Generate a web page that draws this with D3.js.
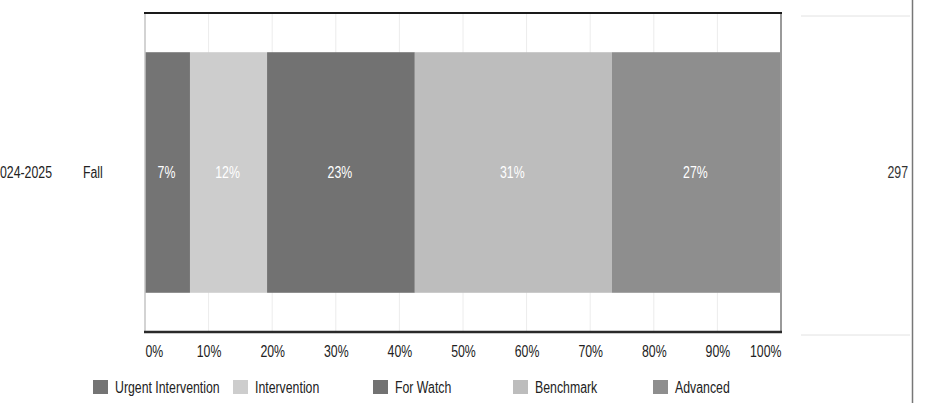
<!DOCTYPE html>
<html>
<head>
<meta charset="utf-8">
<script src="https://cdn.jsdelivr.net/npm/d3@7"></script>
<style>
  html, body { margin: 0; padding: 0; background: #fff; }
  svg { display: block; }
  text { font-family: "Liberation Sans", Arial, sans-serif; }
</style>
</head>
<body>
<div id="chart"></div>
<script>
// ---- data ----
const levels = ["Urgent Intervention", "Intervention", "For Watch", "Benchmark", "Advanced"];
const levelColors = ["#747474", "#cdcdcd", "#727272", "#bdbdbd", "#8e8e8e"];
const counts = [21, 36, 69, 92, 79];   // students per level, 2024-2025 Fall
const rowYear = "2024-2025";
const rowTerm = "Fall";
const totalN = 297;
const xTicks = [0, 10, 20, 30, 40, 50, 60, 70, 80, 90, 100];

// ---- layout ----
const width = 925, height = 403;
const plot = { left: 145, right: 781, top: 13, bottom: 332 };
const FONT = 16;
const NARROW = 0.77;   // the source font is a condensed sans

// place a condensed text: squeeze horizontally around its own x
function narrow(sel) {
  sel.each(function() {
    const t = d3.select(this);
    const x0 = +t.attr("x") || 0;
    t.attr("x", x0 / NARROW).attr("transform", `scale(${NARROW},1)`);
  });
}

const svg = d3.select("#chart").append("svg")
  .attr("width", width)
  .attr("height", height);

const x = d3.scaleLinear().domain([0, 100]).range([plot.left, plot.right]);
const y = d3.scaleBand().domain([rowTerm]).range([plot.top, plot.bottom]).paddingInner(0).paddingOuter(0.163);
const rowMid = y(rowTerm) + y.bandwidth() / 2;

// gridlines
svg.append("g")
  .selectAll("line")
  .data(xTicks.slice(1, -1))
  .enter().append("line")
  .attr("x1", d => x(d)).attr("x2", d => x(d))
  .attr("y1", plot.top).attr("y2", plot.bottom)
  .attr("stroke", "#ececec")
  .attr("stroke-width", 1);

// stacked segments
const total = d3.sum(counts);
let acc = 0;
const segs = counts.map((c, i) => {
  const pct = c / total * 100;
  const s = { key: levels[i], x0: acc, x1: acc + pct, pct, color: levelColors[i] };
  acc += pct;
  return s;
});

svg.append("g")
  .selectAll("rect")
  .data(segs)
  .enter().append("rect")
  .attr("x", d => x(d.x0))
  .attr("width", d => x(d.x1) - x(d.x0))
  .attr("y", y(rowTerm))
  .attr("height", y.bandwidth())
  .attr("fill", d => d.color);

svg.append("g")
  .selectAll("text")
  .data(segs)
  .enter().append("text")
  .attr("x", d => (x(d.x0) + x(d.x1)) / 2 - 1)
  .attr("y", rowMid)
  .attr("dy", "0.35em")
  .attr("text-anchor", "middle")
  .attr("fill", "#ffffff")
  .attr("font-size", FONT + "px")
  .text(d => Math.round(d.pct) + "%")
  .call(narrow);

// frame
svg.append("line")
  .attr("x1", plot.left).attr("x2", plot.left)
  .attr("y1", plot.top).attr("y2", plot.bottom)
  .attr("stroke", "#c4c4c4").attr("stroke-width", 1.5);
svg.append("line")
  .attr("x1", plot.right).attr("x2", plot.right)
  .attr("y1", plot.top).attr("y2", plot.bottom)
  .attr("stroke", "#9a9a9a").attr("stroke-width", 2);
svg.append("line")
  .attr("x1", plot.left - 1).attr("x2", plot.right + 1)
  .attr("y1", plot.top).attr("y2", plot.top)
  .attr("stroke", "#1a1a1a").attr("stroke-width", 2);

// x axis
const xAxis = d3.axisBottom(x)
  .tickValues(xTicks)
  .tickSize(0)
  .tickPadding(14)
  .tickFormat(d => d + "%");

const axisG = svg.append("g")
  .attr("transform", `translate(0, ${plot.bottom})`)
  .call(xAxis);
axisG.select(".domain")
  .attr("stroke", "#2a2a2a")
  .attr("stroke-width", 2.5)
  .attr("d", `M${plot.left - 1},0H${plot.right + 1}`);
axisG.selectAll("text")
  .attr("fill", "#222")
  .attr("font-size", FONT + "px")
  .attr("font-family", null)
  .attr("text-anchor", d => d === 0 ? "start" : d === 100 ? "end" : "middle")
  .call(narrow);

// row labels
svg.append("text")
  .attr("x", 52)
  .attr("y", rowMid)
  .attr("dy", "0.35em")
  .attr("text-anchor", "end")
  .attr("fill", "#222")
  .attr("font-size", FONT + "px")
  .text(rowYear)
  .call(narrow);
svg.append("text")
  .attr("x", 83)
  .attr("y", rowMid)
  .attr("dy", "0.35em")
  .attr("fill", "#222")
  .attr("font-size", FONT + "px")
  .text(rowTerm)
  .call(narrow);

// right column: N
svg.append("line")
  .attr("x1", 801).attr("x2", 910).attr("y1", 16).attr("y2", 16)
  .attr("stroke", "#e2e2e2");
svg.append("line")
  .attr("x1", 801).attr("x2", 910).attr("y1", 335).attr("y2", 335)
  .attr("stroke", "#e2e2e2");
svg.append("text")
  .attr("x", 908)
  .attr("y", rowMid)
  .attr("dy", "0.35em")
  .attr("text-anchor", "end")
  .attr("fill", "#333")
  .attr("font-size", FONT + "px")
  .text(totalN)
  .call(narrow);
svg.append("line")
  .attr("x1", 912.5).attr("x2", 912.5).attr("y1", 0).attr("y2", height)
  .attr("stroke", "#777").attr("stroke-width", 1.5);

// legend
const legend = svg.append("g")
  .selectAll("g")
  .data(levels)
  .enter().append("g")
  .attr("transform", (d, i) => `translate(${93 + i * 140}, 380)`);
legend.append("rect")
  .attr("width", 15).attr("height", 14)
  .attr("fill", (d, i) => levelColors[i]);
legend.append("text")
  .attr("x", 22)
  .attr("y", 7)
  .attr("dy", "0.35em")
  .attr("fill", "#222")
  .attr("font-size", FONT + "px")
  .text(d => d)
  .call(narrow);
</script>
</body>
</html>
